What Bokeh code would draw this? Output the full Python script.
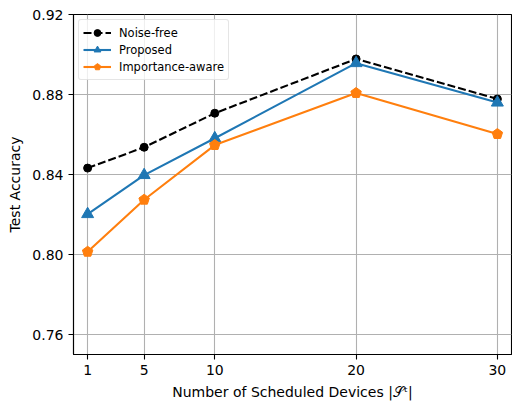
from bokeh.plotting import figure
from bokeh.models import FixedTicker, NumeralTickFormatter, Legend, LegendItem, Range1d
from bokeh.embed import file_html
from bokeh.resources import INLINE

devices = [1, 5, 10, 20, 30]
noise_free = [0.8433, 0.8537, 0.8707, 0.8978, 0.8778]
proposed = [0.8203, 0.8398, 0.8582, 0.8957, 0.8760]
importance_aware = [0.8015, 0.8275, 0.8548, 0.8808, 0.8603]
x_ticks = [1, 5, 10, 20, 30]
y_ticks = [0.76, 0.80, 0.84, 0.88, 0.92]

FONT = "DejaVu Sans"
BLUE = "#1f77b4"
ORANGE = "#ff7f0e"

p = figure(width=512, height=402, output_backend="svg", toolbar_location=None,
           x_range=Range1d(0, 31), y_range=Range1d(0.7502, 0.92),
           min_border_left=73, min_border_right=1, min_border_top=14, min_border_bottom=48)
p.background_fill_color = "white"
p.border_fill_color = "white"
p.outline_line_color = "black"
p.outline_line_width = 1.1

for ax in (p.xaxis[0], p.yaxis[0]):
    ax.axis_line_color = "black"
    ax.axis_line_width = 1.1
    ax.major_tick_line_color = "black"
    ax.major_tick_line_width = 1.1
    ax.major_tick_out = 5
    ax.major_tick_in = 0
    ax.minor_tick_line_color = None
    ax.major_label_text_font = FONT
    ax.major_label_text_font_size = "14px"
    ax.major_label_text_color = "black"
    ax.axis_label_text_font = FONT
    ax.axis_label_text_font_size = "14px"
    ax.axis_label_text_font_style = "normal"
    ax.axis_label_text_color = "black"
    ax.major_label_standoff = 5
    ax.axis_label_standoff = 6

p.xaxis.ticker = FixedTicker(ticks=x_ticks)
p.yaxis.ticker = FixedTicker(ticks=y_ticks)
p.yaxis.formatter = NumeralTickFormatter(format="0.00")
p.xaxis.axis_label = "Number of Scheduled Devices |\U0001D4AE\u1D57|"
p.yaxis.axis_label = "Test Accuracy"

p.xgrid.ticker = FixedTicker(ticks=x_ticks)
p.ygrid.ticker = FixedTicker(ticks=y_ticks)
for g in (p.xgrid[0], p.ygrid[0]):
    g.grid_line_color = "#b0b0b0"
    g.grid_line_width = 1.1

l1 = p.line(devices, noise_free, line_color="black", line_width=2.1, line_dash="8 3")
m1 = p.scatter(devices, noise_free, marker="circle", size=8, fill_color="black", line_color="black")
l2 = p.line(devices, proposed, line_color=BLUE, line_width=2.1)
m2 = p.scatter(devices, proposed, marker="triangle", size=12, fill_color=BLUE, line_color=BLUE)
l3 = p.line(devices, importance_aware, line_color=ORANGE, line_width=2.1)
m3 = p.ngon(x=devices, y=importance_aware, radius=5.5, radius_units="screen", n=5,
            fill_color=ORANGE, line_color=ORANGE)

legend = Legend(items=[
    LegendItem(label="Noise-free", renderers=[l1, m1]),
    LegendItem(label="Proposed", renderers=[l2, m2]),
    LegendItem(label="Importance-aware", renderers=[l3, m3]),
], location="top_left")
legend.label_text_font = FONT
legend.label_text_font_size = "11.5px"
legend.label_text_color = "black"
legend.glyph_width = 28
legend.glyph_height = 17
legend.label_height = 17
legend.label_standoff = 8
legend.spacing = 0
legend.padding = 4
legend.margin = 5
legend.border_line_color = "#cccccc"
legend.border_line_width = 1
legend.border_radius = 3
legend.background_fill_alpha = 0.8
p.add_layout(legend)

open("out.html", "w").write(file_html(p, INLINE))
